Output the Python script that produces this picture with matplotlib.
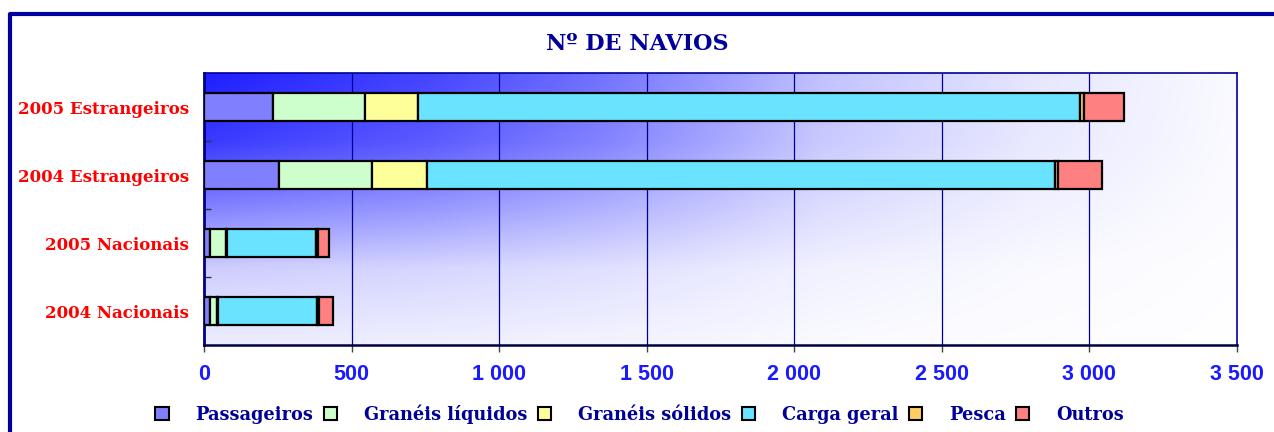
import matplotlib
matplotlib.use('agg')
import matplotlib.pyplot as plt
from matplotlib.lines import Line2D
from matplotlib.patches import Patch
import numpy as np

# data, bottom row first
categories = ['2004 Nacionais', '2005 Nacionais', '2004 Estrangeiros', '2005 Estrangeiros']
passageiros = [20, 20, 254, 234]
graneis_liquidos = [24, 54, 315, 312]
graneis_solidos = [3, 3, 186, 180]
carga_geral = [335, 302, 2128, 2243]
pesca = [7, 7, 10, 12]
outros = [47, 37, 149, 136]

series_names = ['Passageiros', 'Granéis líquidos', 'Granéis sólidos',
                'Carga geral', 'Pesca', 'Outros']
series = [passageiros, graneis_liquidos, graneis_solidos, carga_geral, pesca, outros]
colors = ['#8080FF', '#CCFFCC', '#FFFF99', '#69E3FF', '#FFCC66', '#FF8080']

xticks = [0, 500, 1000, 1500, 2000, 2500, 3000, 3500]
xticklabels = ['0', '500', '1 000', '1 500', '2 000', '2 500', '3 000', '3 500']

NAVY = '#000099'
SERIF = 'DejaVu Serif'

fig = plt.figure(figsize=(12.74, 4.32), dpi=100, facecolor='white')
ax = fig.add_axes([204 / 1274, 1 - 345 / 432, 1033 / 1274, 272 / 432])

# background gradient: deep blue top-left fading to white
u = np.linspace(0, 1, 400)
v = np.linspace(0, 1, 200)
bh = np.interp(u, [0, 0.22, 0.38, 0.48, 0.6, 0.8, 1], [0.88, 0.73, 0.56, 0.42, 0.24, 0.1, 0.02])
fv = np.interp(v, [0, 0.25, 0.5, 0.72, 1], [1, 0.88, 0.55, 0.22, 0.08])
blue = np.outer(fv, bh)
img = np.ones((len(v), len(u), 3))
img[..., 0] = 1 - blue
img[..., 1] = 1 - blue
ax.imshow(img, extent=[0, 3500, -0.5, 3.5], origin='upper', aspect='auto', zorder=0,
          interpolation='bilinear')

y = np.arange(len(categories))
left = np.zeros(len(categories))
for name, vals, c in zip(series_names, series, colors):
    ax.barh(y, vals, left=left, height=0.4, color=c, edgecolor='black',
            linewidth=1.6, label=name, zorder=3)
    left += np.array(vals)

ax.set_xlim(0, 3500)
ax.set_ylim(-0.5, 3.5)

for xv in xticks[1:-1]:
    ax.axvline(xv, color=NAVY, linewidth=0.9, zorder=1)

ax.set_xticks(xticks)
ax.set_xticklabels(xticklabels, fontfamily='Liberation Sans', fontweight='bold',
                   fontsize=15.5, color='#1A1AFF')
ax.tick_params(axis='x', length=5, width=1, color='#444444', pad=9)

ax.set_yticks(y)
ax.set_yticklabels(categories, fontfamily=SERIF, fontweight='bold',
                   fontsize=12, color='#FF0000')
ax.tick_params(axis='y', which='major', length=0, pad=11)
ax.set_yticks([0.5, 1.5, 2.5], minor=True)
ax.tick_params(axis='y', which='minor', direction='in', length=5, width=1, color='#333333')

for side in ['top', 'right']:
    ax.spines[side].set_color(NAVY)
    ax.spines[side].set_linewidth(1.2)
ax.spines['left'].set_color('#000080')
ax.spines['left'].set_linewidth(2)
ax.spines['bottom'].set_color('#000040')
ax.spines['bottom'].set_linewidth(1.8)

fig.text(0.5, 1 - 44 / 432, 'Nº DE NAVIOS', ha='center', va='center',
         fontfamily=SERIF, fontweight='bold', fontsize=16, color=NAVY)

handles = [Patch(facecolor=c, edgecolor='black', linewidth=1.5) for c in colors]
leg = fig.legend(handles, series_names, loc='center', bbox_to_anchor=(0.502, 1 - 414 / 432),
                 ncol=6, frameon=False, handlelength=0.75, handleheight=0.75,
                 handletextpad=1.5, columnspacing=0.6,
                 prop={'family': SERIF, 'weight': 'bold', 'size': 12.8})
for t in leg.get_texts():
    t.set_color(NAVY)

# outer frame (left and top edges)
fx = 10 / 1274
fy = 1 - 14 / 432
fig.add_artist(Line2D([fx, fx, 1.0], [0, fy, fy], transform=fig.transFigure,
                      color='#0000A0', linewidth=3))

fig.savefig('out.png', dpi=100)
